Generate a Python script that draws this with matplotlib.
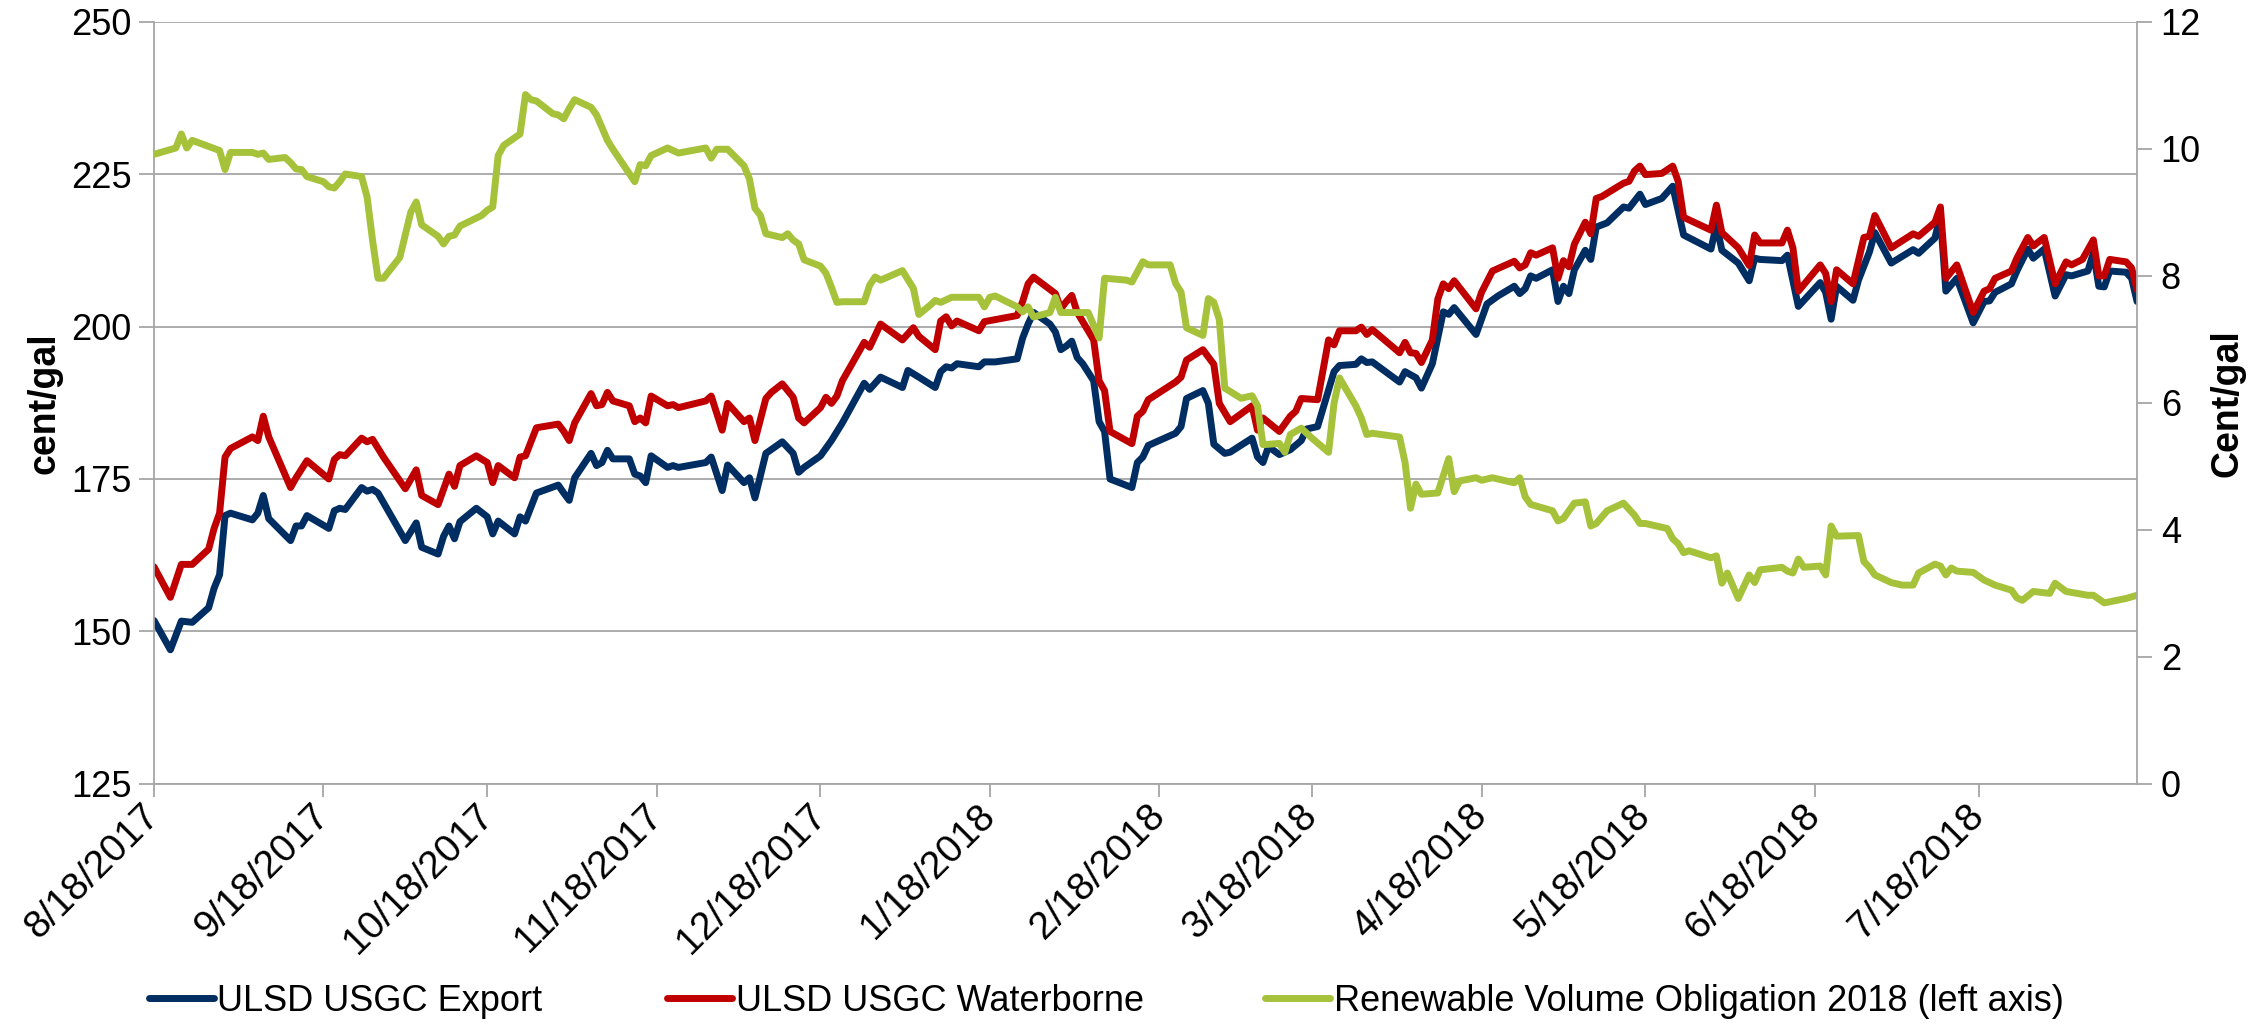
import matplotlib
matplotlib.use('Agg')
import matplotlib.pyplot as plt
import pandas as pd

plt.rcParams['font.family'] = ['Liberation Sans', 'DejaVu Sans']

# data, days counted from the first date
start = pd.Timestamp('2017-08-18')
last_day = 363

export_day = [0, 3, 5, 7, 10, 11, 12, 13, 14, 18, 19, 20, 21, 25, 26, 27, 28, 32, 33, 34,
              35, 38, 39, 40, 41, 46, 48, 49, 52, 53, 54, 55, 56, 59, 61, 62, 63, 66, 67, 68,
              70, 74, 75, 76, 77, 80, 81, 82, 83, 84, 87, 88, 89, 90, 91, 94, 95, 96, 101, 102,
              104, 105, 108, 109, 110, 112, 115, 117, 118, 119, 122, 124, 126, 130, 131, 133, 137, 138, 140, 143,
              144, 145, 146, 147, 151, 152, 154, 158, 159, 160, 161, 164, 165, 166, 167, 168, 169, 170, 172, 173,
              174, 175, 179, 180, 181, 182, 187, 188, 189, 192, 193, 194, 196, 197, 201, 202, 203, 204, 206, 208,
              210, 211, 213, 216, 217, 220, 221, 222, 223, 228, 229, 231, 232, 234, 236, 237, 238, 242, 244, 246,
              249, 250, 251, 252, 253, 256, 257, 258, 259, 260, 262, 263, 264, 266, 269, 270, 272, 273, 276, 278,
              280, 285, 286, 287, 290, 292, 293, 294, 298, 299, 301, 305, 306, 307, 308, 311, 312, 314, 315, 318,
              322, 323, 326, 327, 328, 330, 333, 335, 336, 337, 340, 341, 343, 344, 346, 348, 350, 351, 354, 355,
              356, 357, 358, 361, 362, 363]
export_val = [151.8, 147.0, 151.7, 151.5, 153.9, 157.1, 159.3, 169.0, 169.4, 168.3, 169.4, 172.3, 168.5, 164.9, 167.3, 167.3, 169.0, 166.9, 169.8, 170.2,
              170.0, 173.6, 173.0, 173.3, 172.7, 164.9, 167.8, 163.8, 162.7, 165.6, 167.3, 165.2, 168.0, 170.2, 168.8, 166.0, 168.1, 166.0, 168.8, 168.1,
              172.7, 174.0, 172.7, 171.5, 175.2, 179.2, 177.2, 177.7, 179.7, 178.3, 178.3, 175.8, 175.5, 174.4, 178.8, 176.9, 177.2, 176.9, 177.7, 178.6,
              173.1, 177.3, 174.4, 175.2, 171.9, 179.2, 181.1, 179.2, 176.1, 176.9, 178.8, 181.3, 184.2, 190.7, 189.7, 191.7, 190.0, 192.8, 191.7, 190.0,
              192.6, 193.4, 193.2, 193.9, 193.4, 194.2, 194.2, 194.7, 198.1, 200.4, 202.3, 200.4, 199.1, 196.2, 196.8, 197.6, 194.9, 193.9, 191.1, 184.4,
              182.8, 175.0, 173.6, 177.7, 178.6, 180.5, 182.5, 183.6, 188.2, 189.5, 187.4, 180.7, 179.2, 179.4, 181.7, 178.6, 177.7, 180.3, 179.0, 179.8,
              181.3, 183.2, 183.6, 192.6, 193.6, 193.8, 194.7, 194.1, 194.2, 190.9, 192.6, 191.6, 189.9, 193.9, 202.4, 202.0, 203.1, 198.7, 203.7, 205.0,
              206.6, 205.4, 206.2, 208.3, 207.9, 209.3, 204.1, 206.6, 205.4, 209.3, 212.5, 211.0, 216.3, 217.0, 219.6, 219.4, 221.7, 220.0, 221.0, 223.0,
              215.0, 212.7, 216.7, 212.5, 210.4, 207.5, 211.2, 211.0, 210.8, 211.7, 203.3, 207.2, 205.6, 201.2, 206.6, 204.3, 207.6, 212.2, 215.4, 210.4,
              212.6, 212.0, 214.5, 218.2, 205.8, 207.9, 200.6, 204.1, 204.2, 205.6, 207.0, 209.1, 212.7, 211.2, 212.7, 205.0, 208.5, 208.3, 209.1, 212.1,
              206.6, 206.5, 209.1, 208.9, 207.9, 204.1]

water_day = [0, 3, 5, 7, 10, 11, 12, 13, 14, 18, 19, 20, 21, 25, 26, 28, 32, 33, 34, 35,
             38, 39, 40, 42, 46, 48, 49, 52, 54, 55, 56, 59, 61, 62, 63, 66, 67, 68, 70, 74,
             75, 76, 77, 80, 81, 82, 83, 84, 87, 88, 89, 90, 91, 94, 95, 96, 101, 102, 104, 105,
             108, 109, 110, 112, 113, 115, 117, 118, 119, 122, 123, 124, 125, 126, 130, 131, 133, 137, 139, 140,
             143, 144, 145, 146, 147, 151, 152, 158, 159, 160, 161, 165, 166, 167, 168, 169, 171, 172, 173, 174,
             175, 179, 180, 181, 182, 187, 188, 189, 192, 194, 195, 197, 201, 202, 203, 206, 208, 209, 210, 213,
             215, 216, 217, 220, 221, 222, 223, 228, 229, 230, 231, 232, 234, 235, 236, 237, 238, 242, 243, 245,
             249, 250, 251, 252, 253, 256, 257, 258, 259, 260, 262, 263, 264, 265, 269, 270, 271, 272, 273, 276,
             278, 279, 280, 285, 286, 287, 290, 292, 293, 294, 298, 299, 300, 301, 305, 306, 307, 308, 311, 313,
             314, 315, 318, 322, 323, 326, 327, 328, 330, 333, 335, 336, 337, 340, 341, 343, 344, 346, 348, 350,
             351, 353, 355, 356, 357, 358, 361, 362, 363]
water_val = [160.6, 155.6, 161.0, 161.0, 163.5, 166.9, 169.4, 178.6, 180.0, 181.9, 181.3, 185.3, 181.9, 173.6, 175.2, 178.0, 175.0, 178.2, 179.0, 178.8,
             181.7, 181.1, 181.5, 178.6, 173.4, 176.5, 172.3, 170.8, 175.8, 173.8, 177.2, 178.8, 177.7, 174.4, 177.2, 175.2, 178.6, 178.8, 183.4, 184.0,
             182.8, 181.3, 184.2, 189.0, 187.0, 187.2, 189.2, 187.8, 187.0, 184.4, 185.0, 184.2, 188.6, 187.0, 187.2, 186.7, 187.8, 188.6, 183.0, 187.4,
             184.4, 185.0, 181.3, 188.2, 189.2, 190.6, 188.4, 185.0, 184.2, 186.7, 188.4, 187.4, 188.6, 191.1, 197.4, 196.6, 200.4, 197.8, 199.8, 198.4,
             196.2, 200.9, 201.6, 200.1, 200.9, 199.3, 200.8, 201.8, 204.1, 207.0, 208.1, 205.4, 202.9, 204.1, 205.1, 202.3, 199.3, 197.8, 191.1, 189.5,
             182.8, 180.8, 185.3, 186.1, 188.0, 190.9, 191.7, 194.5, 196.2, 193.8, 187.4, 184.4, 187.0, 183.0, 185.0, 182.8, 185.3, 186.1, 188.2, 188.0,
             197.8, 197.0, 199.3, 199.3, 199.9, 198.7, 199.5, 195.7, 197.4, 195.7, 195.6, 194.1, 197.8, 204.5, 207.0, 206.2, 207.5, 202.9, 205.6, 209.1,
             210.7, 209.6, 210.1, 212.1, 211.7, 212.9, 207.9, 210.8, 209.8, 213.5, 217.1, 215.2, 221.0, 221.3, 223.5, 223.8, 225.5, 226.3, 224.9, 225.1,
             226.3, 223.8, 217.9, 215.8, 219.9, 215.4, 212.9, 210.0, 215.0, 213.7, 213.7, 215.8, 212.9, 205.8, 210.1, 208.7, 204.1, 209.3, 207.0, 214.6,
             214.8, 218.2, 212.9, 215.2, 214.8, 217.1, 219.6, 207.9, 210.1, 202.3, 205.8, 206.2, 207.9, 209.1, 211.2, 214.6, 213.2, 214.6, 207.0, 210.6,
             210.1, 211.0, 214.2, 208.3, 208.3, 211.0, 210.6, 209.6, 206.0]

rvo_day = [0, 4, 5, 6, 7, 12, 13, 14, 18, 19, 20, 21, 24, 25, 26, 27, 28, 31, 32, 33,
           34, 35, 38, 39, 40, 41, 42, 45, 47, 48, 49, 52, 53, 54, 55, 56, 60, 61, 62, 63,
           64, 67, 68, 69, 70, 73, 74, 75, 76, 77, 80, 81, 83, 84, 88, 89, 90, 91, 94, 95,
           96, 101, 102, 103, 105, 108, 109, 110, 111, 112, 115, 116, 117, 118, 119, 122, 123, 124, 125, 126,
           130, 131, 132, 133, 137, 139, 140, 142, 143, 144, 146, 151, 152, 153, 154, 158, 159, 160, 161, 164,
           165, 166, 171, 173, 174, 178, 179, 181, 182, 186, 187, 188, 189, 192, 193, 194, 195, 196, 199, 201,
           202, 203, 206, 207, 208, 210, 212, 215, 216, 217, 220, 221, 222, 223, 228, 229, 230, 231, 232, 235,
           237, 238, 239, 242, 243, 245, 249, 250, 251, 252, 256, 257, 258, 260, 262, 263, 264, 266, 269, 271,
           272, 273, 277, 278, 279, 280, 281, 285, 286, 287, 288, 290, 292, 293, 294, 298, 299, 300, 301, 302,
           305, 306, 307, 308, 312, 313, 314, 315, 318, 320, 322, 323, 326, 327, 328, 329, 330, 333, 335, 336,
           337, 340, 341, 342, 344, 347, 348, 350, 354, 355, 357, 361, 363]
rvo_val = [9.91, 10.01, 10.23, 10.01, 10.13, 9.97, 9.67, 9.94, 9.94, 9.91, 9.93, 9.83, 9.86, 9.78, 9.68, 9.67, 9.56, 9.48, 9.40, 9.38,
           9.48, 9.60, 9.56, 9.24, 8.56, 7.96, 7.96, 8.29, 9.00, 9.16, 8.80, 8.62, 8.50, 8.62, 8.64, 8.78, 8.95, 9.03, 9.08, 9.89,
           10.05, 10.23, 10.85, 10.77, 10.75, 10.55, 10.53, 10.47, 10.63, 10.77, 10.65, 10.53, 10.13, 9.99, 9.48, 9.75, 9.73, 9.89, 10.01, 9.97,
           9.93, 10.01, 9.85, 9.99, 9.99, 9.73, 9.52, 9.06, 8.95, 8.66, 8.60, 8.66, 8.56, 8.50, 8.25, 8.15, 8.04, 7.82, 7.58, 7.59,
           7.59, 7.85, 7.98, 7.93, 8.08, 7.80, 7.39, 7.53, 7.61, 7.58, 7.66, 7.66, 7.51, 7.66, 7.68, 7.51, 7.43, 7.51, 7.35, 7.42,
           7.66, 7.42, 7.42, 7.02, 7.96, 7.93, 7.90, 8.22, 8.17, 8.17, 7.88, 7.74, 7.18, 7.06, 7.64, 7.58, 7.31, 6.23, 6.07, 6.11,
           5.95, 5.34, 5.36, 5.22, 5.50, 5.60, 5.44, 5.22, 5.99, 6.39, 5.95, 5.76, 5.50, 5.52, 5.46, 5.06, 4.34, 4.72, 4.56, 4.58,
           5.12, 4.60, 4.77, 4.82, 4.78, 4.82, 4.74, 4.82, 4.52, 4.40, 4.30, 4.14, 4.18, 4.42, 4.44, 4.06, 4.10, 4.30, 4.42, 4.23,
           4.10, 4.10, 4.02, 3.86, 3.78, 3.64, 3.67, 3.56, 3.59, 3.16, 3.32, 2.92, 3.29, 3.17, 3.37, 3.41, 3.35, 3.32, 3.54, 3.41,
           3.43, 3.29, 4.06, 3.90, 3.91, 3.50, 3.41, 3.29, 3.17, 3.13, 3.13, 3.32, 3.46, 3.43, 3.29, 3.40, 3.35, 3.33, 3.21, 3.17,
           3.13, 3.05, 2.93, 2.89, 3.03, 3.00, 3.16, 3.03, 2.97, 2.97, 2.85, 2.92, 2.97]

labels = ['ULSD USGC Export', 'ULSD USGC Waterborne', 'Renewable Volume Obligation 2018 (left axis)']
colors = ['#002D62', '#C00000', '#A6C23B']
left_ticks = [125, 150, 175, 200, 225, 250]
right_ticks = [0, 2, 4, 6, 8, 10, 12]

assert len(export_day) == len(export_val)
assert len(water_day) == len(water_val)
assert len(rvo_day) == len(rvo_val)


def to_dates(days):
    return start + pd.to_timedelta(days, unit='D')


grey = '#A6A6A6'
fs = 26
lw = 5.0

fig = plt.figure(figsize=(22.55, 10.26), dpi=100)
ax = fig.add_axes([0.0683, 0.2359, 0.8794, 0.7431])
ax2 = ax.twinx()

line_kw = dict(lw=lw, solid_joinstyle='round', solid_capstyle='round')
l1, = ax.plot(to_dates(export_day), export_val, color=colors[0], **line_kw)
l2, = ax.plot(to_dates(water_day), water_val, color=colors[1], **line_kw)
l3, = ax2.plot(to_dates(rvo_day), rvo_val, color=colors[2], **line_kw)

ax.set_xlim(start, start + pd.Timedelta(days=last_day))
ax.set_ylim(125, 250)
ax2.set_ylim(0, 12)
ax.set_yticks(left_ticks)
ax2.set_yticks(right_ticks)

# monthly ticks on the 18th
xt = [start + pd.DateOffset(months=i) for i in range(12)]
ax.set_xticks(xt)
ax.set_xticklabels([f'{d.month}/{d.day}/{d.year}' for d in xt], rotation=45,
                   ha='right', va='center', rotation_mode='anchor', fontsize=28)

ax.yaxis.grid(True, color=grey, lw=1.3)
ax.set_axisbelow(True)

for s in ['top', 'right']:
    ax.spines[s].set_visible(False)
for s in ['top', 'left', 'bottom']:
    ax2.spines[s].set_visible(False)
ax.spines['left'].set_color(grey)
ax.spines['bottom'].set_color(grey)
ax2.spines['right'].set_color(grey)
for sp in [ax.spines['left'], ax.spines['bottom'], ax2.spines['right']]:
    sp.set_linewidth(1.3)

ax.tick_params(axis='y', direction='out', length=11, width=1.3, color=grey, labelsize=fs, pad=5)
ax.tick_params(axis='x', direction='out', length=9, width=1.3, color=grey, pad=10)
ax2.tick_params(axis='y', direction='out', length=11, width=1.3, color=grey, labelsize=fs, pad=6)

ax.set_ylabel('cent/gal', fontsize=27, fontweight='bold', labelpad=6)
ax2.set_ylabel('Cent/gal', fontsize=27, fontweight='bold', labelpad=6)

# legend entries placed one by one along the bottom
for line, lab, x0 in zip([l1, l2, l3], labels, [0.066, 0.296, 0.561]):
    fig.legend([line], [lab], loc='center left', bbox_to_anchor=(x0, 0.024),
               frameon=False, fontsize=fs, handlelength=1.8, handletextpad=0.1,
               borderpad=0, borderaxespad=0)

fig.savefig('out.png', dpi=100)
